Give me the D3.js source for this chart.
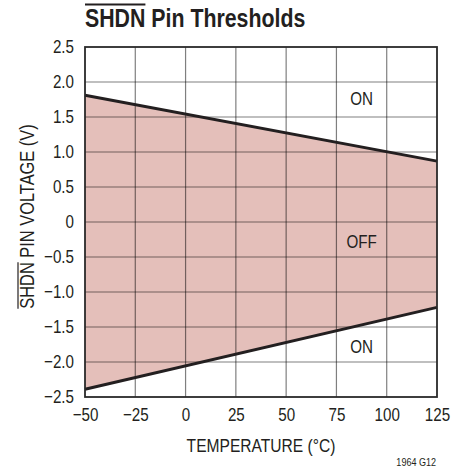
<!DOCTYPE html>
<html>
<head>
<meta charset="utf-8">
<script src="https://cdn.jsdelivr.net/npm/d3@7"></script>
<style>
  html, body { margin: 0; padding: 0; background: #fff; }
  text { font-family: "Liberation Sans", Arial, sans-serif; fill: #231f20; }
</style>
</head>
<body>
<div id="chart"></div>
<script>
// threshold lines, read at the two ends of the temperature range
const temps = [-50, 125];
const upperThreshold = [1.81, 0.87];
const lowerThreshold = [-2.39, -1.22];

const xTicks = [-50, -25, 0, 25, 50, 75, 100, 125];
const yTicks = [2.5, 2.0, 1.5, 1.0, 0.5, 0, -0.5, -1.0, -1.5, -2.0, -2.5];

const regionText = ["ON", "OFF", "ON"];
const regionTemp = [87.5, 87.5, 87.5];
const regionVolt = [1.76, -0.28, -1.78];

const width = 466, height = 472;
const margin = { top: 47, right: 29, bottom: 75, left: 85 };
const narrow = 0.82; // no condensed face installed, squeeze the regular one

const svg = d3.select("#chart").append("svg")
    .attr("width", width)
    .attr("height", height);

const x = d3.scaleLinear().domain([-50, 125]).range([margin.left, width - margin.right]);
const y = d3.scaleLinear().domain([-2.5, 2.5]).range([height - margin.bottom, margin.top]);

const fmt = v => v === 0 ? "0" : (v < 0 ? "\u2212" : "") + Math.abs(v).toFixed(1);
const fmtX = v => (v < 0 ? "\u2212" : "") + Math.abs(v);

function condense(sel) {
    sel.each(function () {
        const len = this.getComputedTextLength();
        d3.select(this)
            .attr("textLength", len * narrow)
            .attr("lengthAdjust", "spacingAndGlyphs");
    });
}

// OFF band between the two threshold lines
const band = temps.map((t, i) => [t, upperThreshold[i]])
    .concat(temps.map((t, i) => [t, lowerThreshold[i]]).reverse());
svg.append("path")
    .attr("d", d3.line().x(d => x(d[0])).y(d => y(d[1]))(band) + "Z")
    .attr("fill", "#e4bfba");

// grid
const grid = svg.append("g").attr("stroke", "#000").attr("stroke-opacity", 0.5).attr("stroke-width", 1.2);
grid.selectAll(".vx").data(xTicks.slice(1, -1)).join("line")
    .attr("x1", d => x(d)).attr("x2", d => x(d))
    .attr("y1", y(2.5)).attr("y2", y(-2.5));
grid.selectAll(".hy").data(yTicks.slice(1, -1)).join("line")
    .attr("x1", x(-50)).attr("x2", x(125))
    .attr("y1", d => y(d)).attr("y2", d => y(d));

// threshold lines
[upperThreshold, lowerThreshold].forEach(series => {
    svg.append("path")
        .datum(temps.map((t, i) => [t, series[i]]))
        .attr("d", d3.line().x(d => x(d[0])).y(d => y(d[1])))
        .attr("fill", "none")
        .attr("stroke", "#231f20")
        .attr("stroke-width", 3);
});

// frame
svg.append("rect")
    .attr("x", x(-50)).attr("y", y(2.5))
    .attr("width", x(125) - x(-50)).attr("height", y(-2.5) - y(2.5))
    .attr("fill", "none").attr("stroke", "#2a2a2a").attr("stroke-width", 1.8);

// axes
const xAxis = svg.append("g")
    .attr("transform", `translate(0,${y(-2.5)})`)
    .call(d3.axisBottom(x).tickValues(xTicks).tickFormat(fmtX).tickSize(0).tickPadding(11));
const yAxis = svg.append("g")
    .attr("transform", `translate(${x(-50)},0)`)
    .call(d3.axisLeft(y).tickValues(yTicks).tickFormat(fmt).tickSize(0).tickPadding(11));
[xAxis, yAxis].forEach(a => {
    a.select(".domain").remove();
    a.attr("font-family", null);
    a.selectAll("text").attr("font-size", 18.5).style("fill", "#231f20").call(condense);
});

// region labels
svg.selectAll(".region").data(regionText).join("text")
    .attr("x", (d, i) => x(regionTemp[i]))
    .attr("y", (d, i) => y(regionVolt[i]))
    .attr("dy", "0.35em")
    .attr("text-anchor", "middle")
    .attr("font-size", 18.5)
    .text(d => d)
    .call(condense);

// x axis title
svg.append("text")
    .attr("x", (x(-50) + x(125)) / 2)
    .attr("y", 452)
    .attr("text-anchor", "middle")
    .attr("font-size", 19)
    .text("TEMPERATURE (\u00b0C)")
    .call(condense);

// y axis title with overlined SHDN
const yTitle = svg.append("g").attr("transform", "translate(34,216.5) rotate(-90)");
const yText = yTitle.append("text")
    .attr("text-anchor", "middle")
    .attr("font-size", 20)
    .text("SHDN PIN VOLTAGE (V)");
{
    const full = yText.node().getComputedTextLength() * narrow;
    const w = yText.node().getSubStringLength(0, 4) * narrow;
    yText.call(condense);
    yTitle.append("line")
        .attr("x1", -full / 2).attr("x2", -full / 2 + w)
        .attr("y1", -16).attr("y2", -16)
        .attr("stroke", "#231f20").attr("stroke-width", 1.2);
}

// chart title with overlined SHDN
const title = svg.append("text")
    .attr("x", 85)
    .attr("y", 27)
    .attr("font-size", 26)
    .attr("font-weight", "bold")
    .text("SHDN Pin Thresholds");
{
    const w = title.node().getSubStringLength(0, 4) * narrow;
    title.call(condense);
    svg.append("line")
        .attr("x1", 85).attr("x2", 85 + w)
        .attr("y1", 4.5).attr("y2", 4.5)
        .attr("stroke", "#231f20").attr("stroke-width", 1.8);
}

// figure code
svg.append("text")
    .attr("x", 436)
    .attr("y", 466)
    .attr("text-anchor", "end")
    .attr("font-size", 11)
    .text("1964 G12")
    .call(condense);
</script>
</body>
</html>
